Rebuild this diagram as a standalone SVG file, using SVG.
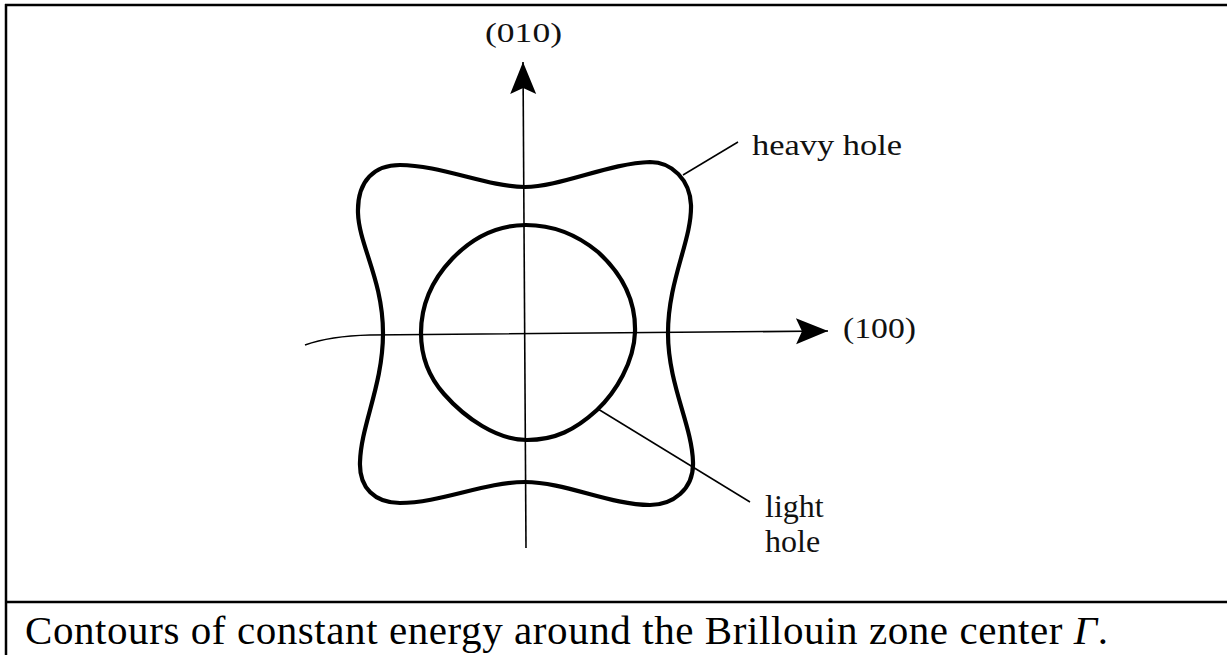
<svg xmlns="http://www.w3.org/2000/svg" width="1227" height="655" viewBox="0 0 1227 655">
  <style>
    .frame { stroke: #000; stroke-width: 2.5; fill: none; }
    .axis { stroke: #000; stroke-width: 1.6; fill: none; }
    .leader { stroke: #000; stroke-width: 1.5; fill: none; }
    .contour { stroke: #000; stroke-width: 4.2; fill: none; stroke-linejoin: round; }
    .lbl { font-family: "Liberation Serif", "Times New Roman", serif; fill: #111; }
    .cap { font-family: "Liberation Serif", "Times New Roman", serif; fill: #000; font-size: 41px; }
  </style>
  <defs>
    <marker id="arr" viewBox="-33 -14 35 28" refX="0" refY="0" markerWidth="35" markerHeight="28" orient="auto" markerUnits="userSpaceOnUse">
      <path d="M0,0 L-32,-13 L-26,0 L-32,13 Z" fill="#000"/>
    </marker>
  </defs>
  <rect width="1227" height="655" fill="#fff"/>

  <g id="frame">
    <line class="frame" x1="5" y1="5" x2="1227" y2="5"/>
    <line class="frame" x1="6" y1="4" x2="6" y2="655"/>
    <line class="frame" x1="5" y1="602" x2="1227" y2="602"/>
  </g>

  <g id="connectors">
    <path id="axis-010" class="axis" d="M526,548 L523,62" marker-end="url(#arr)"/>
    <path id="axis-100" class="axis" d="M305,345 Q330,336 370,335 L828,331" marker-end="url(#arr)"/>
    <line id="leader-heavy" class="leader" x1="683" y1="175" x2="738" y2="142"/>
    <line id="leader-light" class="leader" x1="598" y1="409" x2="750" y2="502"/>
  </g>

  <g id="heavy-hole">
    <path class="contour" d="M525,187 C560,187 610,163 650,162 C672,162 690,180 691,205 C692,240 668,280 668,333 C668,385 692,425 693,462 C694,490 672,505 650,505 C610,505 565,482 525,482 C485,482 440,503 400,503 C375,503 359,488 360,462 C361,425 383,385 383,333 C383,280 359,245 358,213 C357,180 375,165 400,165 C440,165 488,187 525,187 Z"/>
  </g>

  <g id="light-hole">
    <path class="contour" d="M526,225 C552,225 575,233 598,252 C620,272 636,298 635,332 C634,362 616,392 597,410 C575,430 555,440 527,440 C497,440 465,418 444,394 C428,376 421,357 421,333 C421,305 432,280 452,259 C472,238 497,225 526,225 Z"/>
  </g>

  <g id="labels">
    <text class="lbl" x="485" y="42" font-size="27" textLength="77" lengthAdjust="spacingAndGlyphs">(010)</text>
    <text class="lbl" x="843" y="338" font-size="30" textLength="73" lengthAdjust="spacingAndGlyphs">(100)</text>
    <text class="lbl" x="752" y="155" font-size="30" textLength="150" lengthAdjust="spacingAndGlyphs">heavy hole</text>
    <text class="lbl" x="765" y="517" font-size="32">light</text>
    <text class="lbl" x="765" y="552" font-size="32">hole</text>
  </g>

  <g id="caption">
    <text class="cap" x="25" y="644" textLength="1083">Contours of constant energy around the Brillouin zone center <tspan font-style="italic">Γ</tspan>.</text>
  </g>
</svg>
